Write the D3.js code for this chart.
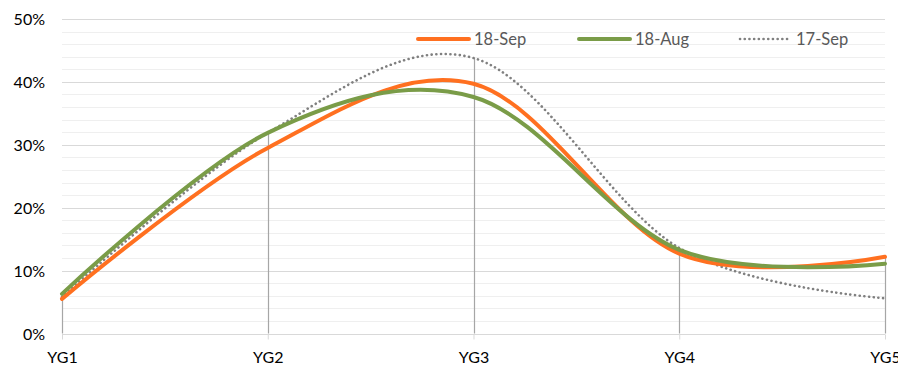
<!DOCTYPE html>
<html>
<head>
<meta charset="utf-8">
<script src="https://cdn.jsdelivr.net/npm/d3@7/dist/d3.min.js"></script>
<style>
  html, body { margin: 0; padding: 0; background: #fff; }
  svg { display: block; }
  text { font-family: Lato, "Open Sans", sans-serif; }
</style>
</head>
<body>
<svg id="chart" width="898" height="367"></svg>
<script>
// Categories and series values (share of total)
const categories = ["YG1", "YG2", "YG3", "YG4", "YG5"];
const sep18 = [0.055, 0.295, 0.397, 0.127, 0.122];
const aug18 = [0.063, 0.319, 0.376, 0.133, 0.111];
const sep17 = [0.058, 0.319, 0.438, 0.136, 0.056];
const seriesNames = ["18-Sep", "18-Aug", "17-Sep"];
const yTicks = [0, 0.1, 0.2, 0.3, 0.4, 0.5];

const series = [
  { name: seriesNames[0], values: sep18, color: "#FF7020", width: 4, dash: null },
  { name: seriesNames[1], values: aug18, color: "#7A9C48", width: 4, dash: null },
  { name: seriesNames[2], values: sep17, color: "#808080", width: 2.6, dash: "0.1,4.6" }
];

const svg = d3.select("#chart");
const x = d3.scalePoint().domain(categories).range([62, 885]);
const y = d3.scaleLinear().domain([0, 0.5]).range([333.5, 19]);

// Minor gridlines every 2%
const minor = d3.range(0.02, 0.5, 0.02).filter(v => Math.abs(v * 10 - Math.round(v * 10)) > 1e-6);
svg.append("g").selectAll("line").data(minor).join("line")
  .attr("x1", 62).attr("x2", 885)
  .attr("y1", d => Math.round(y(d)) + 0.5).attr("y2", d => Math.round(y(d)) + 0.5)
  .attr("stroke", "#efefef").attr("stroke-width", 1);

// Major gridlines every 10%
svg.append("g").selectAll("line").data(yTicks).join("line")
  .attr("x1", 62).attr("x2", 885)
  .attr("y1", d => Math.round(y(d)) + 0.5).attr("y2", d => Math.round(y(d)) + 0.5)
  .attr("stroke", "#d9d9d9").attr("stroke-width", 1);

// Y axis labels
const yAxis = d3.axisLeft(y).tickValues(yTicks).tickFormat(d3.format(".0%")).tickSize(0).tickPadding(0);
const gy = svg.append("g").attr("transform", "translate(45,0)").call(yAxis);
gy.select(".domain").remove();
gy.selectAll("text").attr("font-size", 16).attr("fill", "#000")
  .attr("font-family", "Lato, 'Open Sans', sans-serif").attr("dy", "0.36em");

// X axis: small tick marks below the baseline and category labels
const xAxis = d3.axisBottom(x).tickSize(5).tickPadding(12);
const gx = svg.append("g").attr("transform", `translate(0,${Math.round(y(0)) + 0.5})`).call(xAxis);
gx.select(".domain").remove();
gx.selectAll(".tick line").attr("stroke", "#d9d9d9");
gx.selectAll("text").attr("font-size", 16).attr("fill", "#000")
  .attr("font-family", "Lato, 'Open Sans', sans-serif");

// Drop lines from the highest series value at each category
const maxima = categories.map((c, i) => ({ c, v: d3.max(series, s => s.values[i]) }));
svg.append("g").selectAll("line").data(maxima).join("line")
  .attr("x1", d => Math.round(x(d.c)) + 0.5).attr("x2", d => Math.round(x(d.c)) + 0.5)
  .attr("y1", d => y(d.v)).attr("y2", y(0))
  .attr("stroke", "#a6a6a6").attr("stroke-width", 1.2);

// Smoothed series lines
const line = d3.line()
  .x((d, i) => x(categories[i]))
  .y(d => y(d))
  .curve(d3.curveCardinal.tension(0));

svg.append("g").selectAll("path").data([series[2], series[0], series[1]]).join("path")
  .attr("d", d => line(d.values))
  .attr("fill", "none")
  .attr("stroke", d => d.color)
  .attr("stroke-width", d => d.width)
  .attr("stroke-linecap", "round")
  .attr("stroke-dasharray", d => d.dash);

// Legend
const legendX = [418, 579, 740];
const lg = svg.append("g").selectAll("g").data(series).join("g")
  .attr("transform", (d, i) => `translate(${legendX[i]},39)`);
lg.append("line")
  .attr("x1", 0).attr("x2", 51).attr("y1", 0).attr("y2", 0)
  .attr("stroke", d => d.color)
  .attr("stroke-width", d => d.width)
  .attr("stroke-linecap", "round")
  .attr("stroke-dasharray", d => d.dash);
lg.append("text")
  .attr("x", 56).attr("y", 0).attr("dy", "0.36em")
  .attr("font-size", 16.5).attr("fill", "#595959")
  .text(d => d.name);
</script>
</body>
</html>
